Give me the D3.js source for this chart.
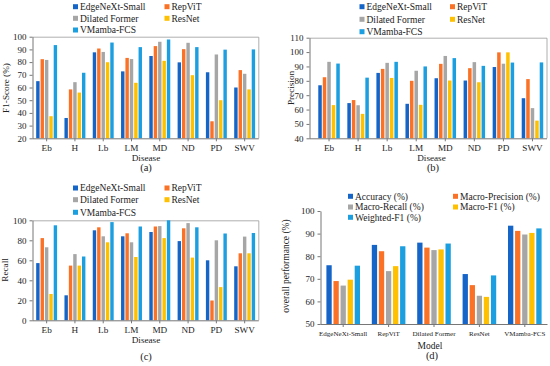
<!DOCTYPE html>
<html><head><meta charset="utf-8">
<script src="https://cdn.jsdelivr.net/npm/d3@7"></script>
<style>body{margin:0;background:#fff}svg{display:block}text{font-family:"Liberation Serif","Times New Roman",serif;fill:#222}</style>
</head><body>
<svg id="c" width="550" height="366"></svg>
<script>
const diseases = ["Eb","H","Lb","LM","MD","ND","PD","SWV"];
const models = ["EdgeNeXt-Small","RepViT","Dilated Former","ResNet","VMamba-FCS"];
const colors = ["#1565c8","#fb7227","#a6a6a6","#ffc000","#1c9fe0"];

// (a) F1-Score (%) per model, by disease
const f1Score = [
  [65, 36, 87.7, 72.7, 84.8, 79.8, 72, 60],
  [82.3, 58.5, 90.7, 83.3, 92.6, 90.2, 33.4, 73.7],
  [81.7, 64.2, 88, 82.4, 96, 95.2, 86, 70.8],
  [37.4, 56, 79.9, 63.7, 81, 69.7, 50, 58.5],
  [93.4, 71.6, 95.4, 91.8, 97.8, 91.8, 89.8, 90]
];
// (b) Precision
const precision = [
  [76.9, 64.5, 85.5, 64, 81.8, 80.2, 89.6, 67.9],
  [82.5, 66.6, 88.3, 80, 91.8, 88.8, 99.8, 81.2],
  [93.2, 63, 92.5, 87, 97.3, 93, 91.9, 61],
  [63.1, 57, 82, 63.3, 80.2, 79, 99.8, 52.3],
  [92, 82.2, 93.2, 90, 95.8, 90.4, 92.7, 92.8]
];
// (c) Recall
const recall = [
  [57.2, 25, 90, 84, 88.3, 79.2, 60, 54],
  [82.2, 54.7, 93, 87, 93.8, 92, 19.8, 67],
  [73, 66.2, 84, 78, 94.2, 97.2, 80, 83.7],
  [26.3, 54.7, 78, 63.3, 82.2, 62.7, 33.2, 67],
  [95, 63.8, 98.2, 93.8, 100, 93, 86.8, 87.3]
];
// (d) overall performance (%)
const metrics = ["Accuracy (%)","Macro-Precision (%)","Macro-Recall (%)","Macro-F1 (%)","Weighted-F1 (%)"];
const overall = [
  [76, 85, 86, 72.1, 93.5],
  [69, 82.2, 83.8, 67.2, 91.2],
  [67, 73.4, 82.7, 62.5, 89.6],
  [69.6, 75.6, 83, 62, 90.3],
  [75.8, 84.4, 85.6, 71.5, 92.3]
];
const yTicksA = [20,30,40,50,60,70,80,90,100];
const yTicksB = [40,50,60,70,80,90,100,110];
const yTicksC = [0,20,40,60,80,100];
const yTicksD = [50,60,70,80,90,100];

const svg = d3.select("#c");

function panel(o){
  const g = svg.append("g");
  const y = d3.scaleLinear().domain(o.ydom).range([o.bottom, o.top]);
  const x = d3.scaleBand().domain(o.cats).range([o.bandL, o.bandR]);
  const bw = x.bandwidth();
  const x1 = d3.scaleBand().domain(d3.range(o.series.length))
      .range([-bw*o.groupFrac/2, bw*o.groupFrac/2]).paddingInner(o.inner);
  if (o.frame){
    g.append("path").attr("d",`M${o.axisX},${o.top+0.5}H${o.frameR}V${o.bottom}`)
      .attr("fill","none").attr("stroke","#9a9a9a").attr("stroke-width",0.8);
  }
  o.values.forEach((vals, si) => {
    g.selectAll(null).data(vals).enter().append("rect")
      .attr("x",(v,i)=> x(o.cats[i]) + bw/2 + x1(si))
      .attr("width", x1.bandwidth())
      .attr("y", v=> y(v))
      .attr("height", v=> o.bottom - y(v))
      .attr("fill", o.colors[si]);
  });
  const ya = g.append("g").attr("transform",`translate(${o.axisX},0)`)
    .call(d3.axisLeft(y).tickValues(o.yticks).tickSize(3).tickPadding(3).tickSizeOuter(0));
  ya.select(".domain").attr("stroke","#777");
  ya.selectAll(".tick line").attr("stroke","#777");
  ya.selectAll("text").attr("font-size",o.tickFs).attr("fill","#222");
  const xa = g.append("g").attr("transform",`translate(0,${o.bottom})`)
    .call(d3.axisBottom(x).tickSize(3).tickSizeOuter(0).tickPadding(o.xpad));
  xa.select(".domain").attr("d",`M${o.axisX},0.5H${o.frameR}`).attr("stroke","#777");
  xa.selectAll(".tick line").attr("stroke","#777");
  xa.selectAll("text").attr("font-size",o.xFs).attr("fill","#222");
  g.append("text").attr("transform",`translate(${o.ytX},${o.ytY}) rotate(-90)`)
    .attr("text-anchor","middle").attr("font-size",o.titleFs).text(o.ytitle);
  g.append("text").attr("x",o.xtX).attr("y",o.xtY).attr("text-anchor","middle")
    .attr("font-size",o.titleFs).text(o.xtitle);
  g.append("text").attr("x",o.labX).attr("y",o.labY).attr("text-anchor","middle")
    .attr("font-size",10.5).text(o.label);
  o.series.forEach((s,i)=>{
    const col = i%2, row = Math.floor(i/2);
    const lx = o.leg[col], ly = o.legRows[row];
    g.append("rect").attr("x",lx).attr("y",ly-2.5).attr("width",5).attr("height",5).attr("fill",o.colors[i]);
    g.append("text").attr("x",lx+7).attr("y",ly+3.2).attr("font-size",o.legFs).text(s);
  });
}

panel({cats:diseases, series:models, values:f1Score, colors, ydom:[20,100], yticks:yTicksA,
  top:36.7, bottom:138.3, bandL:32.5, bandR:258.8, axisX:32.5, frameR:258.8, frame:true,
  groupFrac:0.74, inner:0.22, tickFs:9, xFs:9.2, xpad:3, titleFs:9.2, legFs:9.5,
  ytitle:"F1-Score (%)", ytX:9, ytY:88, xtitle:"Disease", xtX:146, xtY:160.5, label:"(a)", labX:146, labY:171,
  leg:[73,164.5], legRows:[6.7,18.3,30]});

panel({cats:diseases, series:models, values:precision, colors, ydom:[40,110], yticks:yTicksB,
  top:37.7, bottom:138.3, bandL:314.5, bandR:547, axisX:309.5, frameR:547, frame:true,
  groupFrac:0.74, inner:0.22, tickFs:9, xFs:9.2, xpad:3, titleFs:9.2, legFs:9.5,
  ytitle:"Precision", ytX:294, ytY:88, xtitle:"Disease", xtX:431.5, xtY:160.5, label:"(b)", labX:433, labY:171,
  leg:[359.5,450], legRows:[6.7,19.3,31.7]});

panel({cats:diseases, series:models, values:recall, colors, ydom:[0,100], yticks:yTicksC,
  top:220.3, bottom:320.3, bandL:32.5, bandR:258.8, axisX:32.5, frameR:258.8, frame:true,
  groupFrac:0.74, inner:0.22, tickFs:9, xFs:9.2, xpad:3, titleFs:9.2, legFs:9.5,
  ytitle:"Recall", ytX:8, ytY:270, xtitle:"Disease", xtX:146, xtY:342.5, label:"(c)", labX:146, labY:360,
  leg:[73,164.5], legRows:[188,199.7,212.3]});

panel({cats:models, series:metrics, values:overall, colors, ydom:[50,100], yticks:yTicksD,
  top:211, bottom:324, bandL:320.5, bandR:547.5, axisX:320.5, frameR:547.5, frame:false,
  groupFrac:0.74, inner:0.25, tickFs:9, xFs:7, xpad:4, titleFs:9.5, legFs:9.5,
  ytitle:"overall performance (%)", ytX:289, ytY:266, xtitle:"Model", xtX:430, xtY:349, label:"(d)", labX:432, labY:359,
  leg:[348,453], legRows:[196.3,207,217.3]});
</script>
</body></html>
